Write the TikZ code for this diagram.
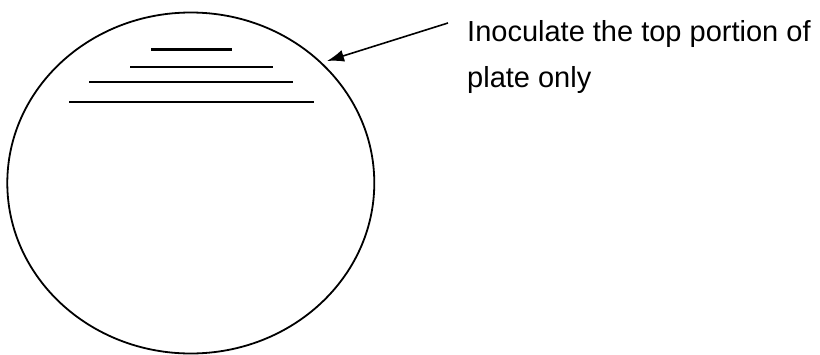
\documentclass[tikz,border=0pt]{standalone}
\usepackage{fontspec}
\setmainfont{Liberation Sans}
\usetikzlibrary{arrows.meta}
\begin{document}
\begin{tikzpicture}[x=1pt,y=-1pt,
  plate/.style={draw=black,line width=1.8pt},
  streak/.style={draw=black,line width=2.4pt},
  pointer/.style={draw=black,line width=1.6pt,-{Latex[length=17pt,width=12pt]}},
  caption/.style={anchor=base west,inner sep=0pt,
    font=\fontsize{29}{46}\selectfont}]
\useasboundingbox (0,0) rectangle (820,354);
\draw[plate] (190.8,183) ellipse [x radius=183.5, y radius=170.5];
\coordinate (s1a) at (151,49.3);  \coordinate (s1b) at (232,49.3);
\coordinate (s2a) at (130,66.7);  \coordinate (s2b) at (273,66.7);
\coordinate (s3a) at (89,81.7);   \coordinate (s3b) at (293,81.7);
\coordinate (s4a) at (69,101.7);  \coordinate (s4b) at (314,101.7);
\draw[streak] (s1a) -- (s1b);
\draw[streak] (s2a) -- (s2b);
\draw[streak] (s3a) -- (s3b);
\draw[streak] (s4a) -- (s4b);
\node[caption] (label1) at (467,41.7) {Inoculate the top portion of};
\node[caption] (label2) at (467,87.7) {plate only};
\coordinate (tail) at (448,23);
\coordinate (tip) at (327,61);
\draw[pointer] (tail) -- (tip);
\end{tikzpicture}
\end{document}
